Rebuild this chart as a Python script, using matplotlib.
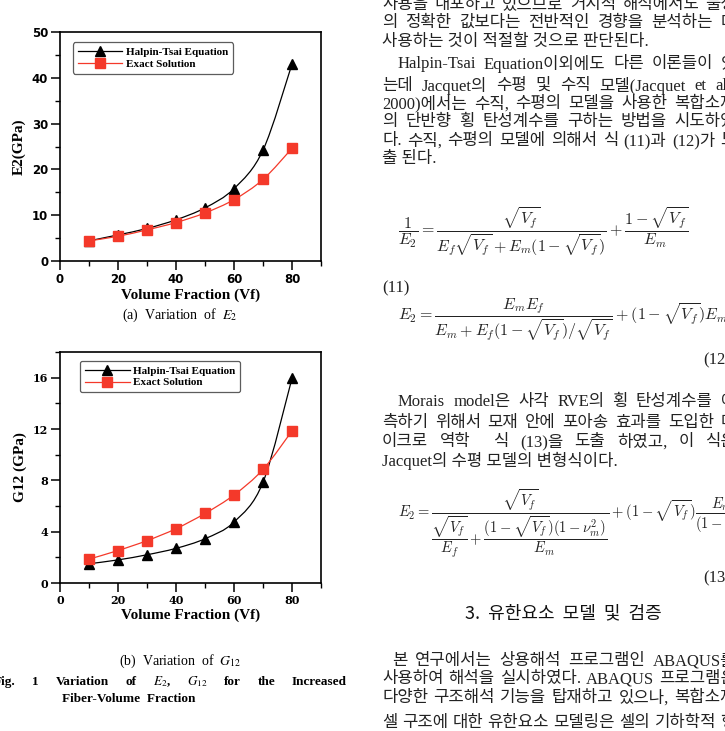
import numpy as np
import matplotlib
matplotlib.use("Agg")
import matplotlib.pyplot as plt
from matplotlib.path import Path
from matplotlib.patches import PathPatch
from matplotlib.lines import Line2D
from matplotlib.ticker import MultipleLocator
from matplotlib.font_manager import FontProperties

# data read from the page
vf = [10, 20, 30, 40, 50, 60, 70, 80]
e2_halpin = [4.4, 5.7, 7.1, 9.0, 11.6, 15.8, 24.2, 43.0]
e2_exact = [4.4, 5.4, 6.8, 8.4, 10.5, 13.4, 17.8, 24.6]
g12_halpin = [1.5, 1.8, 2.2, 2.7, 3.45, 4.75, 7.85, 15.95]
g12_exact = [1.86, 2.53, 3.3, 4.23, 5.42, 6.86, 8.85, 11.85]
labels = ["Halpin-Tsai Equation", "Exact Solution"]

W, H = 725, 731
RED = "#f4392a"
SERIF = "Liberation Serif"
KR = ["Liberation Serif", "Noto Sans CJK KR"]

fig = plt.figure(figsize=(W / 100, H / 100), dpi=100)
fig.patch.set_facecolor("white")


def fx(x):
    return x / W


def fy(y):
    return 1 - y / H


def spline(ax, x, y, color):
    # smooth connection through the points (like Origin's spline line)
    p = np.column_stack([x, y]).astype(float)
    p = np.vstack([p[0], p, p[-1]])
    verts = [tuple(p[1])]
    codes = [Path.MOVETO]
    for i in range(1, len(p) - 2):
        c1 = p[i] + (p[i + 1] - p[i - 1]) / 6
        c2 = p[i + 1] - (p[i + 2] - p[i]) / 6
        verts += [tuple(c1), tuple(c2), tuple(p[i + 1])]
        codes += [Path.CURVE4] * 3
    ax.add_patch(PathPatch(Path(verts, codes), fill=False, ec=color, lw=0.9,
                           transform=ax.transData, zorder=2))


def chart(rect, yh, ye, ymax, ymaj, ymin, ylabel, tickfont, legx, legy):
    ax = fig.add_axes(rect)
    spline(ax, vf, yh, "black")
    spline(ax, vf, ye, RED)
    ax.plot(vf, yh, ls="none", marker="^", ms=7.5, color="black", zorder=3)
    ax.plot(vf, ye, ls="none", marker="s", ms=6.5, color=RED, zorder=3)
    ax.set_xlim(0, 90)
    ax.set_ylim(0, ymax)
    ax.xaxis.set_major_locator(MultipleLocator(20))
    ax.xaxis.set_minor_locator(MultipleLocator(10))
    ax.yaxis.set_major_locator(MultipleLocator(ymaj))
    ax.yaxis.set_minor_locator(MultipleLocator(ymin))
    ax.tick_params(which="major", direction="out", length=6.5, width=1.1, pad=2)
    ax.tick_params(which="minor", direction="out", length=3.5, width=1.0)
    for s in ax.spines.values():
        s.set_linewidth(1.2)
    for t in ax.get_xticklabels() + ax.get_yticklabels():
        t.set_fontproperties(tickfont)
    ax.set_xlabel("Volume Fraction (Vf)", family=SERIF, weight="bold",
                  fontsize=11, labelpad=2)
    ax.set_ylabel(ylabel, family=SERIF, weight="bold", fontsize=11, labelpad=4)
    handles = [Line2D([], [], color="black", lw=0.9, marker="^", ms=7.5),
               Line2D([], [], color=RED, lw=0.9, marker="s", ms=6.5)]
    leg = ax.legend(handles, labels, loc="upper left", bbox_to_anchor=(legx, legy),
                    borderaxespad=0, handlelength=4.0, handletextpad=0.3,
                    labelspacing=0.15, borderpad=0.45, fancybox=True,
                    prop={"family": SERIF, "weight": "bold", "size": 8})
    leg.get_frame().set_edgecolor("#333333")
    leg.get_frame().set_linewidth(0.9)
    return ax


ax1 = chart([fx(60), fy(261), (321 - 60) / W, (261 - 32) / H],
            e2_halpin, e2_exact, 50, 10, 5, "E2(GPa)",
            FontProperties(family="DejaVu Sans", weight="bold", size=8.5),
            0.05, 0.955)
ax2 = chart([fx(60), fy(583), (321 - 60) / W, (583 - 352) / H],
            g12_halpin, g12_exact, 18, 4, 2, "G12 (GPa)",
            FontProperties(family="DejaVu Serif", weight="bold", size=8),
            0.077, 0.96)

# sub captions
fig.text(fx(180), fy(315), r"(a)  Variation  of  $E_2$", family=SERIF,
         fontsize=10, ha="center", va="center", math_fontfamily="stix")
fig.text(fx(180), fy(661), r"(b)  Variation  of  $G_{12}$", family=SERIF,
         fontsize=10, ha="center", va="center", math_fontfamily="stix")


def justify(words, x0, x1, y, **kw):
    texts = [fig.text(fx(x0), fy(y), w, ha="left", va="center", **kw)
             for w in words]
    r = fig.canvas.get_renderer()
    widths = [t.get_window_extent(r).width for t in texts]
    gap = (x1 - x0 - sum(widths)) / max(len(words) - 1, 1)
    x = x0
    for t, w in zip(texts, widths):
        t.set_x(fx(x))
        x += w + gap


cap = dict(family=SERIF, weight="bold", fontsize=9.5, math_fontfamily="stix")
justify(["Fig.", "1", "Variation", "of", r"$E_2$,", r"$G_{12}$", "for", "the",
         "Increased"], -6, 347, 682, **cap)
fig.text(fx(62), fy(699), "Fiber-Volume  Fraction", ha="left", va="center", **cap)

# right text column
body = dict(family=KR, fontsize=12, weight="light", color="#222222")
para1 = [
    (382, 5, "사용을 내포하고 있으므로 거시적 해석에서도 물성", True),
    (382, 23, "의 정확한 값보다는 전반적인 경향을 분석하는 데", True),
    (382, 42, "사용하는 것이 적절할 것으로 판단된다.", False),
    (398, 64, "Halpin-Tsai Equation이외에도 다른 이론들이 있", True),
    (382, 86, "는데 Jacquet의 수평 및 수직 모델(Jacquet et al.,", True),
    (382, 104, "2000)에서는 수직, 수평의 모델을 사용한 복합소재", True),
    (382, 122, "의 단반향 횡 탄성계수를 구하는 방법을 시도하였", True),
    (382, 141, "다. 수직, 수평의 모델에 의해서 식 (11)과 (12)가 도", True),
    (382, 159, "출 된다.", False),
    (398, 402, "Morais model은 사각 RVE의 횡 탄성계수를 예", True),
    (382, 423, "측하기 위해서 모재 안에 포아송 효과를 도입한 마", True),
    (382, 442, "이크로 역학  식 (13)을 도출 하였고, 이 식은", True),
    (382, 461, "Jacquet의 수평 모델의 변형식이다.", False),
    (392, 661, "본 연구에서는 상용해석 프로그램인 ABAQUS를", True),
    (382, 679, "사용하여 해석을 실시하였다. ABAQUS 프로그램은", True),
    (382, 698, "다양한 구조해석 기능을 탑재하고 있으나, 복합소재", True),
    (382, 723, "셀 구조에 대한 유한요소 모델링은 셀의 기하학적 형", True),
]
for x0, y, line, just in para1:
    if just:
        justify(line.split(" "), x0, 736, y, **body)
    else:
        fig.text(fx(x0), fy(y), line, ha="left", va="center", **body)

eq = dict(ha="left", va="center", math_fontfamily="cm", color="#222222")
fig.text(fx(398), fy(232),
         r"$\dfrac{1}{E_2}=\dfrac{\sqrt{V_f}}{E_f\sqrt{V_f}+E_m(1-\sqrt{V_f})}"
         r"+\dfrac{1-\sqrt{V_f}}{E_m}$", fontsize=11.5, **eq)
fig.text(fx(382), fy(288), "(11)", family=SERIF, fontsize=12, va="center",
         color="#222222")
fig.text(fx(398), fy(320),
         r"$E_2=\dfrac{E_mE_f}{E_m+E_f(1-\sqrt{V_f})/\sqrt{V_f}}"
         r"+(1-\sqrt{V_f})E_m$", fontsize=11.5, **eq)
fig.text(fx(703), fy(360), "(12)", family=SERIF, fontsize=12, va="center",
         color="#222222")
fig.text(fx(398), fy(524),
         r"$E_2=\dfrac{\sqrt{V_f}}{\dfrac{\sqrt{V_f}}{E_f}+"
         r"\dfrac{(1-\sqrt{V_f})(1-\nu_m^2)}{E_m}}"
         r"+(1-\sqrt{V_f})\dfrac{E_m}{(1-\nu_m^2)}$", fontsize=10.5, **eq)
fig.text(fx(703), fy(578), "(13)", family=SERIF, fontsize=12, va="center",
         color="#222222")

fig.text(fx(563), fy(613), "3.  유한요소  모델  및  검증", family="Noto Sans CJK KR",
         fontsize=13, weight="normal", ha="center", va="center", color="#111111")

fig.savefig("out.png", dpi=100)
